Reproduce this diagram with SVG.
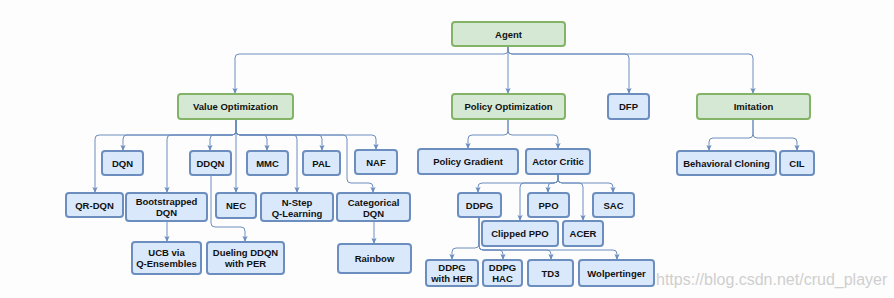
<svg xmlns="http://www.w3.org/2000/svg" width="894" height="298" viewBox="0 0 894 298">
<defs>
<marker id="arr" markerUnits="userSpaceOnUse" markerWidth="6" markerHeight="6" viewBox="0 0 6 6" refX="6" refY="3" orient="auto">
<path d="M0,0.4 L6,3 L0,5.6 L1.2,3 z" fill="#6c8ebf"/>
</marker>
</defs>
<style>
.g rect{fill:#d5e8d4;stroke:#82b366;stroke-width:2}
.b rect{fill:#dae8fc;stroke:#6c8ebf;stroke-width:2}
text{font-family:"Liberation Sans",Arial,sans-serif;font-weight:bold;font-size:9.5px;fill:#111;text-anchor:middle}
#edges path{fill:none;stroke:#6c8ebf;stroke-width:1;marker-end:url(#arr)}
.wm{font-weight:normal;font-size:16px;fill:#cfcfcf;text-anchor:start}
</style>
<rect width="894" height="298" fill="#fdfdfd"/>
<g id="edges">
<path d="M508,46 V50 Q508,54 504,54 H239 Q235,54 235,58 V94"/>
<path d="M508,46 V94"/>
<path d="M508,46 V50 Q508,54 512,54 H625 Q629,54 629,58 V94"/>
<path d="M508,46 V50 Q508,54 512,54 H749 Q753,54 753,58 V94"/>
<path d="M236,119 V131 Q236,135 232,135 H99 Q95,135 95,139 V193"/>
<path d="M236,119 V131 Q236,135 232,135 H127 Q123,135 123,139 V151"/>
<path d="M236,119 V131 Q236,135 232,135 H171 Q167,135 167,139 V193"/>
<path d="M236,119 V131 Q236,135 232,135 H214 Q210,135 210,139 V151"/>
<path d="M236,119 V193"/>
<path d="M236,119 V131 Q236,135 240,135 H263 Q267,135 267,139 V151"/>
<path d="M236,119 V131 Q236,135 240,135 H293 Q297,135 297,139 V193"/>
<path d="M236,119 V131 Q236,135 240,135 H318 Q322,135 322,139 V151"/>
<path d="M236,119 V131 Q236,135 240,135 H343 Q347,135 347,139 V179 Q347,183 351,183 H369 Q373,183 373,187 V193"/>
<path d="M236,119 V131 Q236,135 240,135 H372 Q376,135 376,139 V150"/>
<path d="M167,221 V242"/>
<path d="M211,175 V223 Q211,227 215,227 H241 Q245,227 245,231 V242"/>
<path d="M374,221 V244"/>
<path d="M508,119 V131 Q508,135 504,135 H472 Q468,135 468,139 V149"/>
<path d="M508,119 V131 Q508,135 512,135 H554 Q558,135 558,139 V149"/>
<path d="M558,174 V179 Q558,183 554,183 H482 Q478,183 478,187 V193"/>
<path d="M558,174 V179 Q558,183 554,183 H524 Q520,183 520,187 V221"/>
<path d="M558,174 V179 Q558,183 554,183 H552 Q548,183 548,187 V193"/>
<path d="M558,174 V179 Q558,183 562,183 H579 Q583,183 583,187 V221"/>
<path d="M558,174 V179 Q558,183 562,183 H609 Q613,183 613,187 V193"/>
<path d="M479,217 V244 Q479,248 475,248 H456 Q452,248 452,252 V260"/>
<path d="M479,217 V246 Q479,250 483,250 H499 Q503,250 503,254 V260"/>
<path d="M479,217 V246 Q479,250 483,250 H547 Q551,250 551,254 V260"/>
<path d="M479,217 V246 Q479,250 483,250 H613 Q617,250 617,254 V260"/>
<path d="M753,119 V134 Q753,138 749,138 H713 Q709,138 709,142 V151"/>
<path d="M753,119 V134 Q753,138 757,138 H793 Q797,138 797,142 V151"/>
</g>
<g id="agent" class="g"><rect x="452" y="22" width="113" height="24" rx="3"/><text x="508.5" y="37.5">Agent</text></g>
<g id="value-opt" class="g"><rect x="178" y="94" width="115" height="25" rx="3"/><text x="235.5" y="110">Value Optimization</text></g>
<g id="policy-opt" class="g"><rect x="452" y="94" width="113" height="25" rx="3"/><text x="508.5" y="110">Policy Optimization</text></g>
<g id="dfp" class="b"><rect x="608" y="94" width="41" height="25" rx="3"/><text x="628.5" y="110">DFP</text></g>
<g id="imitation" class="g"><rect x="697" y="94" width="113" height="25" rx="3"/><text x="753.5" y="110">Imitation</text></g>
<g id="dqn" class="b"><rect x="102" y="151" width="41" height="24" rx="3"/><text x="122.5" y="166.5">DQN</text></g>
<g id="ddqn" class="b"><rect x="190" y="151" width="41" height="24" rx="3"/><text x="210.5" y="166.5">DDQN</text></g>
<g id="mmc" class="b"><rect x="247" y="151" width="41" height="24" rx="3"/><text x="267.5" y="166.5">MMC</text></g>
<g id="pal" class="b"><rect x="303" y="151" width="37" height="24" rx="3"/><text x="321.5" y="166.5">PAL</text></g>
<g id="naf" class="b"><rect x="355" y="150" width="42" height="24" rx="3"/><text x="376" y="165.5">NAF</text></g>
<g id="qr-dqn" class="b"><rect x="66" y="193" width="57" height="24" rx="3"/><text x="94.5" y="208.5">QR-DQN</text></g>
<g id="bootstrapped-dqn" class="b"><rect x="126" y="193" width="81" height="28" rx="3"/><text x="166.5" y="205">Bootstrapped</text><text x="166.5" y="216">DQN</text></g>
<g id="nec" class="b"><rect x="216" y="193" width="40" height="25" rx="3"/><text x="236" y="209">NEC</text></g>
<g id="n-step" class="b"><rect x="261" y="193" width="72" height="28" rx="3"/><text x="297" y="205.5">N-Step</text><text x="297" y="216.5">Q-Learning</text></g>
<g id="categorical-dqn" class="b"><rect x="337" y="193" width="73" height="28" rx="3"/><text x="373.5" y="205.5">Categorical</text><text x="373.5" y="216.5">DQN</text></g>
<g id="ucb" class="b"><rect x="132" y="242" width="69" height="32" rx="3"/><text x="166.5" y="255.5">UCB via</text><text x="166.5" y="267">Q-Ensembles</text></g>
<g id="dueling" class="b"><rect x="207" y="242" width="77" height="32" rx="3"/><text x="245.5" y="255.5">Dueling DDQN</text><text x="245.5" y="267">with PER</text></g>
<g id="rainbow" class="b"><rect x="338" y="244" width="73" height="29" rx="3"/><text x="374.5" y="261.5">Rainbow</text></g>
<g id="policy-gradient" class="b"><rect x="418" y="149" width="100" height="25" rx="3"/><text x="468" y="165">Policy Gradient</text></g>
<g id="actor-critic" class="b"><rect x="526" y="149" width="64" height="25" rx="3"/><text x="558" y="165">Actor Critic</text></g>
<g id="ddpg" class="b"><rect x="458" y="193" width="43" height="24" rx="3"/><text x="479.5" y="208.5">DDPG</text></g>
<g id="ppo" class="b"><rect x="528" y="193" width="41" height="24" rx="3"/><text x="548.5" y="208.5">PPO</text></g>
<g id="sac" class="b"><rect x="593" y="193" width="41" height="24" rx="3"/><text x="613.5" y="208.5">SAC</text></g>
<g id="clipped-ppo" class="b"><rect x="482" y="221" width="76" height="25" rx="3"/><text x="520" y="237">Clipped PPO</text></g>
<g id="acer" class="b"><rect x="563" y="221" width="40" height="25" rx="3"/><text x="583" y="237">ACER</text></g>
<g id="ddpg-her" class="b"><rect x="426" y="260" width="52" height="26" rx="3"/><text x="452" y="271">DDPG</text><text x="452" y="282">with HER</text></g>
<g id="ddpg-hac" class="b"><rect x="483" y="260" width="39" height="26" rx="3"/><text x="502.5" y="271">DDPG</text><text x="502.5" y="282">HAC</text></g>
<g id="td3" class="b"><rect x="528" y="260" width="45" height="26" rx="3"/><text x="550.5" y="276.5">TD3</text></g>
<g id="wolpertinger" class="b"><rect x="579" y="260" width="75" height="26" rx="3"/><text x="616.5" y="276.5">Wolpertinger</text></g>
<g id="behavioral-cloning" class="b"><rect x="677" y="151" width="99" height="24" rx="3"/><text x="726.5" y="166.5">Behavioral Cloning</text></g>
<g id="cil" class="b"><rect x="780" y="151" width="34" height="24" rx="3"/><text x="797" y="166.5">CIL</text></g>
<text class="wm" x="656" y="285">https://blog.csdn.net/crud_player</text>
</svg>
